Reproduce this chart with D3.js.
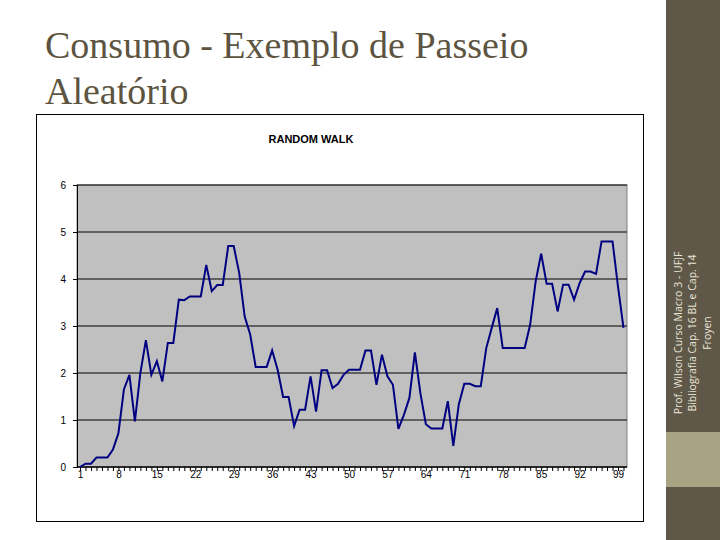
<!DOCTYPE html>
<html><head><meta charset="utf-8">
<script src="https://cdn.jsdelivr.net/npm/d3@7"></script>
<style>body{margin:0;background:#fff;}svg{display:block;}</style>
</head><body>
<svg id="c" width="720" height="540"></svg>
<script>
const values = [0,0.07,0.07,0.2,0.2,0.2,0.37,0.72,1.65,1.96,
0.97,2.0,2.7,1.96,2.25,1.82,2.64,2.64,3.56,3.55,
3.63,3.63,3.63,4.3,3.74,3.87,3.87,4.7,4.7,4.13,
3.2,2.82,2.13,2.13,2.13,2.48,2.07,1.49,1.49,0.87,
1.22,1.22,1.93,1.18,2.06,2.06,1.68,1.77,1.96,2.07,
2.07,2.07,2.48,2.48,1.75,2.39,1.93,1.75,0.81,1.11,
1.47,2.44,1.57,0.91,0.82,0.82,0.82,1.4,0.45,1.33,
1.77,1.77,1.72,1.72,2.53,2.96,3.38,2.53,2.53,2.53,
2.53,2.53,3.03,3.95,4.54,3.9,3.9,3.31,3.88,3.88,
3.56,3.91,4.16,4.16,4.11,4.8,4.8,4.8,3.84,2.96];
const xTickLabels = [1,8,15,22,29,36,43,50,57,64,71,78,85,92,99];
const yTicks = [0,1,2,3,4,5,6];
const titleLines = ["Consumo - Exemplo de Passeio","Aleatório"];
const sideLines = ["Prof. Wilson Curso Macro 3 - UFJF","Bibliografia Cap. 16 BL e Cap. 14","Froyen"];

const svg = d3.select("#c");
// right strip
svg.append("rect").attr("x",666).attr("y",0).attr("width",54).attr("height",540).attr("fill","#5f5848");
svg.append("rect").attr("x",666).attr("y",432).attr("width",54).attr("height",55).attr("fill","#a8a382");
const st = svg.append("text").attr("transform","translate(692,333) rotate(-90)")
  .attr("text-anchor","middle").attr("font-family","Open Sans, sans-serif").attr("font-size",10.5).attr("fill","#e8e4d8");
sideLines.forEach((t,i)=>st.append("tspan").attr("x",0).attr("y",(i-1)*14.5+4).text(t));

// title
titleLines.forEach((t,i)=>svg.append("text").attr("x",45).attr("y",58+i*46)
  .attr("font-family","Liberation Serif, serif").attr("font-size",38).attr("fill","#5c5440").text(t));

// chart box
svg.append("rect").attr("x",36.5).attr("y",114.5).attr("width",607).attr("height",407).attr("fill","#fff").attr("stroke","#000");
svg.append("text").attr("x",311).attr("y",143).attr("text-anchor","middle").attr("font-family","Liberation Sans, Arial").attr("font-weight","bold").attr("font-size",11).text("RANDOM WALK");

const L=77,R=627,T=185,B=467;
const x = d3.scaleLinear().domain([1,100]).range([80,623.5]);
const y = d3.scaleLinear().domain([0,6]).range([B,T]);
svg.append("rect").attr("x",L).attr("y",T).attr("width",R-L).attr("height",B-T).attr("fill","#c0c0c0").attr("stroke","#808080");
svg.append("g").selectAll("line").data(yTicks).join("line")
  .attr("x1",L).attr("x2",R).attr("y1",d=>y(d)).attr("y2",d=>y(d)).attr("stroke","#000");
const ya = svg.append("g").attr("transform",`translate(${L},0)`).call(d3.axisLeft(y).tickValues(yTicks).tickSize(4).tickFormat(d3.format("d")));
ya.select(".domain").attr("stroke","#000");
ya.selectAll("text").attr("font-family","Liberation Sans, Arial").attr("font-size",10).attr("dx",-4);
const xa = svg.append("g").attr("transform",`translate(0,${B})`).call(d3.axisBottom(x).tickValues(d3.range(1,101)).tickSize(4).tickFormat(d=>xTickLabels.includes(d)?d:""));
xa.select(".domain").attr("d",`M${L},0H${R}`).attr("stroke","#000");
xa.selectAll("text").attr("font-family","Liberation Sans, Arial").attr("font-size",10).attr("dy",4);
svg.append("path").datum(values).attr("fill","none").attr("stroke","#000080").attr("stroke-width",2)
  .attr("d",d3.line().x((d,i)=>x(i+1)).y(d=>y(d)));
</script>
</body></html>
